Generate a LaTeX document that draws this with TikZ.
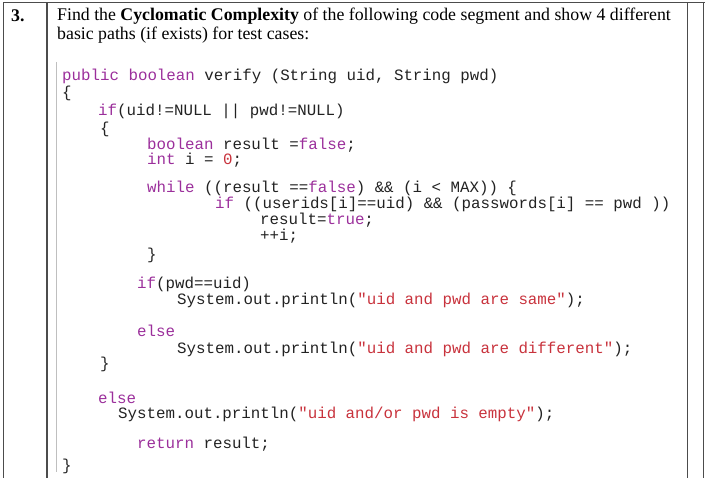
\documentclass[tikz,border=0pt]{standalone}
\usepackage{fontspec}
\setmainfont{Liberation Serif}
\newfontfamily\codefont{Liberation Mono}
\definecolor{kw}{HTML}{9B2F9B}
\definecolor{st}{HTML}{C8323C}
\definecolor{tx}{HTML}{222222}
\begin{document}
\begin{tikzpicture}[x=1pt,y=-1pt,
  q/.style={anchor=west,inner sep=0pt,font=\fontsize{17.8}{20}\selectfont},
  c/.style={anchor=west,inner sep=0pt,text=tx,font=\codefont\fontsize{15.8}{17}\selectfont},
  rule/.style={draw=black!70,line width=1pt}]
\useasboundingbox (0,0) rectangle (705,478);
\draw[rule] (3,478) -- (3,3) -- (705,3);
\draw[rule,line width=2pt] (47,3) -- (47,478);
\draw[rule] (687,3) -- (687,478);
\draw[rule] (703,3) -- (703,478);
\draw[black!25,line width=0.8pt] (56,62) -- (56,472);
\node[q] (n) at (11,16) {\textbf{3.}};
\node[q] (q1) at (57,16) {Find the \textbf{Cyclomatic Complexity} of the following code segment and show 4 different};
\node[q] (q2) at (57,35) {basic paths (if exists) for test cases:};
\node[c] (l1) at (62,76) {\textcolor{kw}{public boolean} verify (String uid, String pwd)};
\node[c] (l2) at (62,93) {\{};
\node[c] (l3) at (98,111) {\textcolor{kw}{if}(uid!=NULL || pwd!=NULL)};
\node[c] (l4) at (100,129) {\{};
\node[c] (l5) at (147,145) {\textcolor{kw}{boolean} result =\textcolor{kw}{false};};
\node[c] (l6) at (147,160) {\textcolor{kw}{int} i = \textcolor{st}{0};};
\node[c] (l7) at (147,188) {\textcolor{kw}{while} ((result ==\textcolor{kw}{false}) \&\& (i < MAX)) \{};
\node[c] (l8) at (215,204) {\textcolor{kw}{if} ((userids[i]==uid) \&\& (passwords[i] == pwd ))};
\node[c] (l9) at (260,220) {result=\textcolor{kw}{true};};
\node[c] (l10) at (260,236) {++i;};
\node[c] (l11) at (147,255) {\}};
\node[c] (l12) at (137,284) {\textcolor{kw}{if}(pwd==uid)};
\node[c] (l13) at (177,300) {System.out.println(\textcolor{st}{"uid and pwd are same"});};
\node[c] (l14) at (137,331) {\textcolor{kw}{else}};
\node[c] (l15) at (177,349) {System.out.println(\textcolor{st}{"uid and pwd are different"});};
\node[c] (l16) at (100,364) {\}};
\node[c] (l17) at (98,398) {\textcolor{kw}{else}};
\node[c] (l18) at (118,414) {System.out.println(\textcolor{st}{"uid and/or pwd is empty"});};
\node[c] (l19) at (137,444) {\textcolor{kw}{return} result;};
\node[c] (l20) at (62,466) {\}};
\end{tikzpicture}
\end{document}
